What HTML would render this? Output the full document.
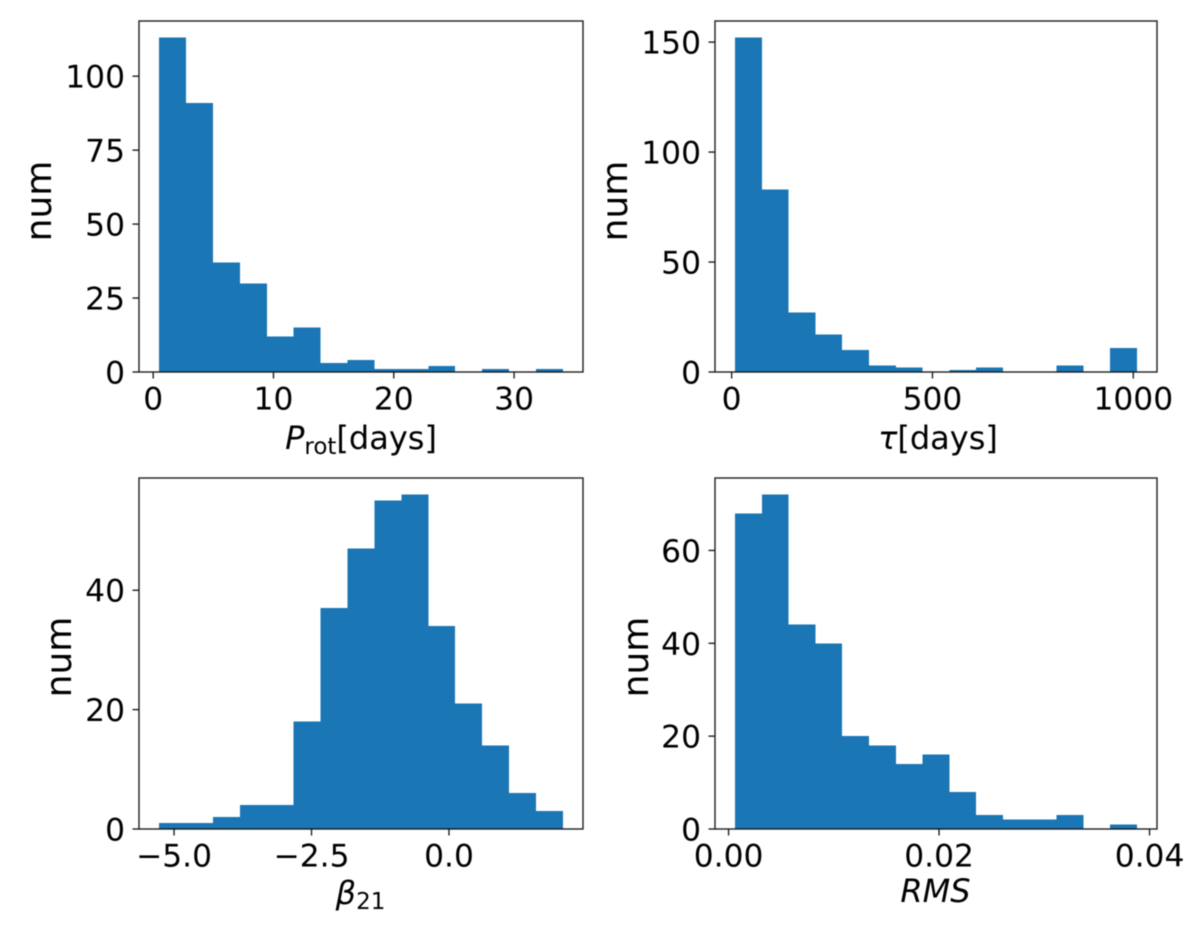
<!DOCTYPE html>
<html lang="en">
<head>
<meta charset="utf-8">
<title>Histograms of rotation period, decay time, spectral slope and RMS</title>
<style>
html,body{margin:0;padding:0;background:#fff;width:1200px;height:925px;overflow:hidden}
svg{display:block;font-family:"DejaVu Sans","Liberation Sans",sans-serif;fill:#000;filter:blur(0.45px)}
.tick{font-size:31.3px}
.axis-label{font-size:32px}
.num{font-size:36px}
.it{font-style:italic}
</style>
</head>
<body>
<svg id="chart" xmlns="http://www.w3.org/2000/svg" width="1200" height="925" viewBox="0 0 1200 925">
  <rect x="0" y="0" width="1200" height="925" fill="#fff"/>
  <g id="panels"></g>
  <text class="num" text-anchor="middle" transform="translate(51,201) rotate(-90)">num</text>
  <text class="num" text-anchor="middle" transform="translate(627,201) rotate(-90)">num</text>
  <text class="num" text-anchor="middle" transform="translate(71,657) rotate(-90)">num</text>
  <text class="num" text-anchor="middle" transform="translate(648,657) rotate(-90)">num</text>
  <text class="axis-label" text-anchor="middle" x="361" y="449"><tspan class="it">P</tspan><tspan font-size="23" dy="5">rot</tspan><tspan dy="-5">[days]</tspan></text>
  <text class="axis-label" text-anchor="middle" x="938" y="449"><tspan class="it">τ</tspan>[days]</text>
  <text class="axis-label" text-anchor="middle" x="360.5" y="904"><tspan class="it">β</tspan><tspan font-size="23" dy="5">21</tspan></text>
  <text class="axis-label it" text-anchor="middle" x="935.5" y="902">RMS</text>
</svg>
<script>
// Bin counts
const protCounts = [113, 91, 37, 30, 12, 15, 3, 4, 1, 1, 2, 0, 1, 0, 1];
const tauCounts = [152, 83, 27, 17, 10, 3, 2, 0, 1, 2, 0, 0, 3, 0, 11];
const betaCounts = [1, 1, 2, 4, 4, 18, 37, 47, 55, 56, 34, 21, 14, 6, 3];
const rmsCounts = [68, 72, 44, 40, 20, 18, 14, 16, 8, 3, 2, 2, 3, 0, 1];

// Data range covered by the bins (low edge, high edge)
const protRange = [0.5, 34.05];
const tauRange = [8.6, 1009];
const betaRange = [-5.27, 2.07];
const rmsRange = [0.00062, 0.0388];

// X ticks
const protXTicks = [0, 10, 20, 30];
const protXLabels = ['0', '10', '20', '30'];
const tauXTicks = [0, 500, 1000];
const tauXLabels = ['0', '500', '1000'];
const betaXTicks = [-5, -2.5, 0];
const betaXLabels = ['\u22125.0', '\u22122.5', '0.0'];
const rmsXTicks = [0, 0.02, 0.04];
const rmsXLabels = ['0.00', '0.02', '0.04'];

// Y ticks
const protYTicks = [0, 25, 50, 75, 100];
const tauYTicks = [0, 50, 100, 150];
const betaYTicks = [0, 20, 40];
const rmsYTicks = [0, 20, 40, 60];

const NS = 'http://www.w3.org/2000/svg';
const root = document.getElementById('panels');

function make(tag, parent) {
  const el = document.createElementNS(NS, tag);
  parent.appendChild(el);
  return el;
}

function drawPanel(key, box, counts, range, xTicks, xLabels, yTicks) {
  const g = make('g', root);
  
  

  const span = range[1] - range[0];
  const xMin = range[0] - span * 0.05;
  const xMax = range[1] + span * 0.05;
  const yMax = Math.max.apply(null, counts) * 1.05;
  const xScale = function (v) { return box.left + (v - xMin) / (xMax - xMin) * (box.right - box.left); };
  const yScale = function (v) { return box.bottom - v / yMax * (box.bottom - box.top); };
  const step = span / counts.length;

  counts.forEach(function (count, i) {
    if (count <= 0) return;
    const bar = make('rect', g);
    
    
    const x0 = xScale(range[0] + i * step);
    const x1 = xScale(range[0] + (i + 1) * step);
    bar.setAttribute('x', x0);
    bar.setAttribute('width', x1 - x0);
    bar.setAttribute('y', yScale(count));
    bar.setAttribute('height', box.bottom - yScale(count));
    bar.setAttribute('fill', '#1a76b4');
    bar.setAttribute('shape-rendering', 'crispEdges');
  });

  const frame = make('rect', g);
  
  
  frame.setAttribute('x', box.left);
  frame.setAttribute('y', box.top);
  frame.setAttribute('width', box.right - box.left);
  frame.setAttribute('height', box.bottom - box.top);
  frame.setAttribute('fill', 'none');
  frame.setAttribute('stroke', '#111');
  frame.setAttribute('stroke-width', '1.3');

  xTicks.forEach(function (t, i) {
    const px = xScale(t);
    const mark = make('line', g);
    
    
    mark.setAttribute('x1', px);
    mark.setAttribute('x2', px);
    mark.setAttribute('y1', box.bottom);
    mark.setAttribute('y2', box.bottom + 6.5);
    mark.setAttribute('stroke', '#111');
    mark.setAttribute('stroke-width', '1.3');
    const label = make('text', g);
    
    
    label.setAttribute('class', 'tick');
    label.setAttribute('text-anchor', 'middle');
    label.setAttribute('x', px);
    label.setAttribute('y', box.bottom + 37.5);
    label.textContent = xLabels[i];
  });

  yTicks.forEach(function (t) {
    const py = yScale(t);
    const mark = make('line', g);
    
    
    mark.setAttribute('x1', box.left - 6.5);
    mark.setAttribute('x2', box.left);
    mark.setAttribute('y1', py);
    mark.setAttribute('y2', py);
    mark.setAttribute('stroke', '#111');
    mark.setAttribute('stroke-width', '1.3');
    const label = make('text', g);
    
    
    label.setAttribute('class', 'tick');
    label.setAttribute('text-anchor', 'end');
    label.setAttribute('x', box.left - 14);
    label.setAttribute('y', py + 11.5);
    label.textContent = String(t);
  });
}

drawPanel('prot', {left: 139, right: 583, top: 21, bottom: 372}, protCounts, protRange, protXTicks, protXLabels, protYTicks);
drawPanel('tau', {left: 715, right: 1157, top: 21, bottom: 372}, tauCounts, tauRange, tauXTicks, tauXLabels, tauYTicks);
drawPanel('beta', {left: 139, right: 583, top: 478, bottom: 829}, betaCounts, betaRange, betaXTicks, betaXLabels, betaYTicks);
drawPanel('rms', {left: 715, right: 1157, top: 478, bottom: 829}, rmsCounts, rmsRange, rmsXTicks, rmsXLabels, rmsYTicks);
</script>
</body>
</html>
